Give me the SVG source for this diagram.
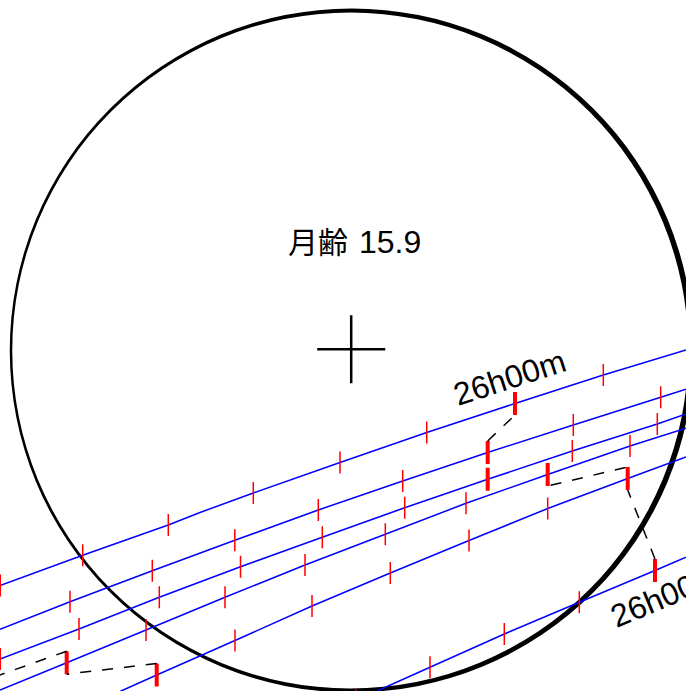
<svg xmlns="http://www.w3.org/2000/svg" width="686" height="691" viewBox="0 0 686 691">
<style>
.track{fill:none;stroke:#0000ff;stroke-width:1.5}
.tick{fill:none;stroke:#ff0000;stroke-width:1.5}
.major{fill:none;stroke:#ff0000;stroke-width:4}
.conn{fill:none;stroke:#000;stroke-width:1.5;stroke-dasharray:11 11}
.lbl{font-family:"Liberation Sans","Noto Sans CJK JP",sans-serif;font-size:32px;fill:#000}
.cjk{font-family:"Noto Sans CJK JP","Noto Sans CJK SC",sans-serif;font-size:30px}
</style>
<rect width="686" height="691" fill="#fff"/>
<g id="moon">
<path fill="#000" fill-rule="evenodd" d="M9.75,350.5a342,342 0 1 0 684,0a342,342 0 1 0 -684,0Z M12.25,350.5a338,338 0 1 0 676,0a338,338 0 1 0 -676,0Z"/>
</g>
<g id="center-mark">
<path d="M317.2,349.2H385.2M351.2,315.2V383.2" stroke="#000" stroke-width="2.5" fill="none"/>
</g>
<g id="title">
<text class="lbl" x="288" y="253"><tspan class="cjk">月齢</tspan><tspan dx="2"> 15.9</tspan></text>
</g>
<g id="tracks">
<polyline id="track-a" class="track" points="0,585.5 82.7,555.3 168.3,525 200,512.5 253.3,493 340,462.5 426.7,432.5 515,403.5 603.3,375 686,350"/>
<polyline id="track-b" class="track" points="0,629.2 70,601.7 152.3,570.7 234.8,540.3 318.3,510 402.7,481 487.7,452.5 573.3,425 660.7,397.3 686,389.3"/>
<polyline id="track-c" class="track" points="0,659 79,629 159.3,597.3 240.5,566.7 322.3,537.3 404.7,507.7 487.7,479.3 572.3,451 657.3,424 686,414"/>
<polyline id="track-d" class="track" points="0,690 66.7,662.7 146,630 225,597.3 305,565 385.3,534.3 466,503.3 547.7,474.5 630,446 686,428.3"/>
<polyline id="track-e" class="track" points="120,691.5 156.7,675 235,640.5 312,606 390.3,573 469,540.5 547.7,508.5 627.7,478.5 686,457"/>
<polyline id="track-f" class="track" points="377,691 430,667.3 504.3,634 579.3,602.3 655,570.5 686,557.3"/>
</g>
<g id="ticks">
<path class="tick" d="M0.3,574.5v22M82.7,544.3v22M168.3,514v22M253.3,482v22M340,451.5v22M426.7,421.5v22M603.3,364v22
M70,590.7v22M152.3,559.7v22M234.8,529.3v22M318.3,499v22M402.7,470v22M573.3,414v22M660.7,386.3v22
M0.3,648v22M79,618v22M159.3,586.3v22M240.5,555.7v22M322.3,526.3v22M404.7,496.7v22M572.3,440v22M657.3,413v22
M146,619v22M225,586.3v22M305,554v22M385.3,523.3v22M466,492.3v22M630,435v22
M235,629.5v22M312,595v22M390.3,562v22M469,529.5v22M547.7,497.5v22
M356,689.5v22M430,656.3v22M504.3,623v22M579.3,591.3v22"/>
<path class="major" d="M515,392v23M487.7,441v23M487.7,467.8v23M66.7,651.2v23M547.7,463v23M156.7,663.5v23M627.7,467v23M655,559v23"/>
</g>
<g id="connectors">
<path class="conn" d="M487.7,441L515,415"/>
<path class="conn" d="M547.7,486L627.7,467" stroke-dashoffset="-3"/>
<path class="conn" d="M655,559L627.7,490"/>
<path class="conn" d="M66.7,651.2L-10,678.5"/>
<path class="conn" d="M156.7,663.5L66.7,674.2"/>
</g>
<g id="labels">
<text class="lbl" transform="translate(458,406) rotate(-18)">26h00m</text>
<text class="lbl" transform="translate(616.5,628) rotate(-22.5)">26h00m</text>
</g>
</svg>
